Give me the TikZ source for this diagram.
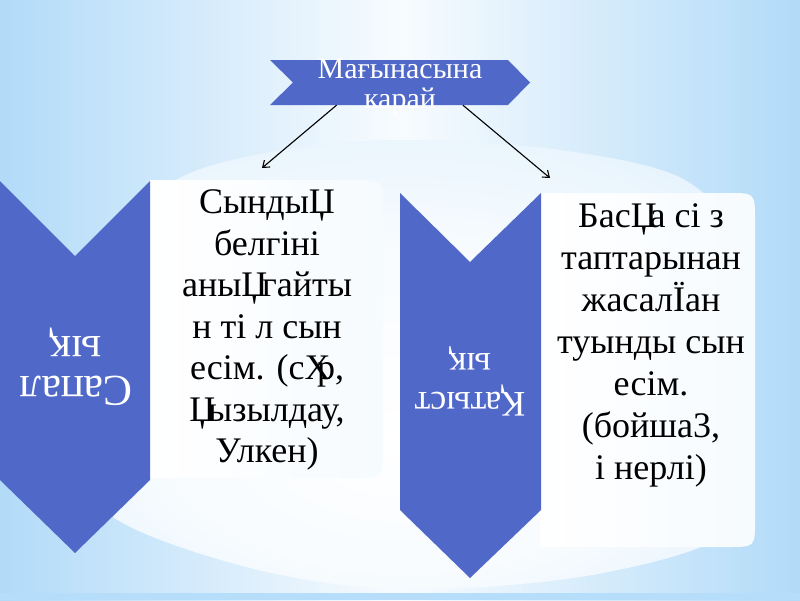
\documentclass[tikz,border=0pt]{standalone}
\usepackage{fontspec}
\setmainfont{Liberation Serif}
\usetikzlibrary{arrows.meta,calc}
\definecolor{bg}{RGB}{164,212,247}
\definecolor{chev}{RGB}{80,104,200}
\colorlet{glowtop}{white!92!bg}
\colorlet{glowin}{white!92!bg}
\colorlet{glowmid}{white!62!bg}
\colorlet{glowout}{white!40!bg}
\colorlet{boxedge}{white!90!bg}
\pgfdeclarehorizontalshading{glowh}{100bp}{color(0bp)=(bg);color(20bp)=(bg);color(50bp)=(glowtop);color(80bp)=(bg);color(100bp)=(bg)}
\pgfdeclareradialshading{dome}{\pgfpoint{0bp}{-8bp}}{color(0bp)=(white);color(18bp)=(glowin);color(40bp)=(glowmid);color(50bp)=(glowout)}
\tikzset{
  chevshape/.style={fill=chev},
  boxfill/.style={left color=white,right color=boxedge},
  boxtext/.style={align=center,text=black,inner sep=0pt},
  chevtext/.style={align=center,text=white,rotate=180,inner sep=0pt},
  conn/.style={draw=black,line width=1.1pt,-{Straight Barb[length=6pt,width=9pt]}}
}
\begin{document}
\begin{tikzpicture}[x=1pt,y=-1pt]
\useasboundingbox (0,0) rectangle (800,600);
% background
\fill[bg] (0,0) rectangle (800,600);
\shade[shading=glowh] (0,0) rectangle (800,600);
\shade[shading=dome] plot[smooth cycle] coordinates {(165,188) (270,152) (400,140) (560,150) (685,180) (745,260) (748,470) (715,540) (580,577) (400,590) (250,568) (110,515) (55,420) (110,300)};
\fill[bg!80!white] (0,593) rectangle (800,600);
% banner
\fill[chevshape] (270,60) -- (508,60) -- (530,82.5) -- (508,105) -- (270,105) -- (293,82.5) -- cycle;
\node[minimum width=238pt,minimum height=45pt,inner sep=0pt] (banner) at (389,82.5) {};
\node[align=center,text=white,inner sep=0pt,font=\fontsize{30}{30}\selectfont] (title) at (400,87) {Мағынасына\\карай};
% left chevron and box
\shade[boxfill] (150,180) -- (353,180) .. controls (383,180) .. (383,210) -- (383,448) .. controls (383,478) .. (353,478) -- (150,478) -- cycle;
\fill[chevshape] (0,181) -- (75,256) -- (150,181) -- (150,480) -- (75,553) -- (0,480) -- cycle;
\node[chevtext,font=\fontsize{44}{40}\selectfont] (lab1) at (76,367) {Сапал\\ық};
\node[boxtext,font=\fontsize{36}{41.5}\selectfont] (t1) at (267,330) {СындыЏ\\белгіні\\аныЏ\kern-.15emгайты\\н ті л сын\\есім. (сХ\kern-.38emр,\\Џ\kern-.2emызылдау,\\Улкен)};
% right chevron and box
\shade[boxfill] (540,193) -- (728,193) .. controls (755,193) .. (755,220) -- (755,520) .. controls (755,547) .. (728,547) -- (540,547) -- cycle;
\fill[chevshape] (400,193) -- (470,262) -- (541,193) -- (541,510) -- (470,578) -- (400,510) -- cycle;
\node[chevtext,font=\fontsize{36}{39}\selectfont] (lab2) at (470,381) {Қатыст\\ық};
\node[boxtext,font=\fontsize{36}{42}\selectfont] (t2) at (651,345) {БасЏ\kern-.2emа сі з\\таптарынан\\жасалЇан\\туынды сын\\есім.\\(бойша3,\\і нерлі)};
% connectors
\coordinate (e1) at (262,168);
\coordinate (e2) at (550,178);
\draw[conn] ($(banner.south west)!0.28!(banner.south east)$) -- (e1);
\draw[conn] ($(banner.south west)!0.81!(banner.south east)$) -- (e2);
\end{tikzpicture}
\end{document}
